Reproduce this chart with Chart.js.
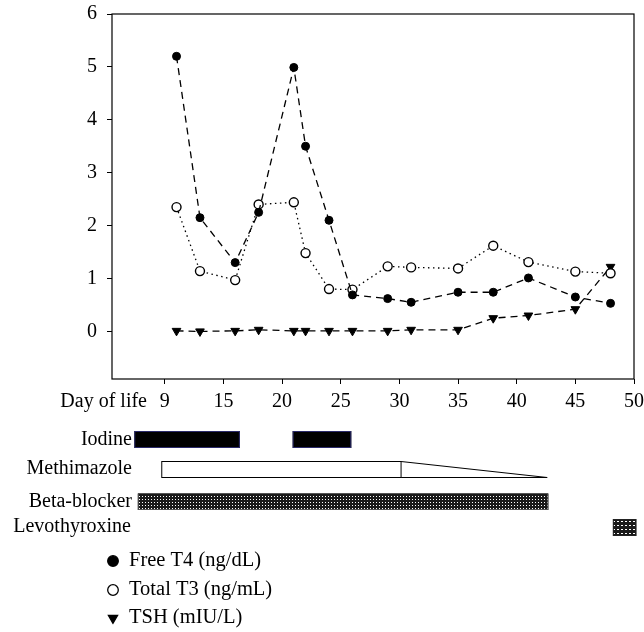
<!DOCTYPE html>
<html>
<head>
<meta charset="utf-8">
<script src="https://cdn.jsdelivr.net/npm/chart.js@4.4.0/dist/chart.umd.min.js"></script>
<style>
html, body { margin: 0; padding: 0; background: #fff; }
#wrap { width: 644px; height: 632px; }
</style>
</head>
<body>
<div id="wrap"><canvas id="chart"></canvas></div>
<script>
var days = [11, 13, 16, 18, 21, 22, 24, 26, 29, 31, 35, 38, 41, 45, 48];
var freeT4 = [5.2, 2.15, 1.3, 2.25, 4.99, 3.5, 2.1, 0.69, 0.62, 0.55, 0.74, 0.74, 1.01, 0.65, 0.53];
var totalT3 = [2.35, 1.14, 0.97, 2.4, 2.44, 1.48, 0.8, 0.79, 1.23, 1.21, 1.19, 1.62, 1.31, 1.13, 1.1];
var tsh = [0.01, 0.0, 0.01, 0.03, 0.01, 0.01, 0.01, 0.01, 0.01, 0.03, 0.03, 0.25, 0.3, 0.42, 1.22];

var xTickValues = [10, 15, 20, 25, 30, 35, 40, 45, 50];
var xTickLabels = ['9', '15', '20', '25', '30', '35', '40', '45', '50'];
var yTickValues = [0, 1, 2, 3, 4, 5, 6];

// treatment periods (day-of-life scale)
var iodine = [[7.4, 16.4], [20.9, 25.9]];
var methimazole = [9.7, 30.1, 42.6]; // start, taper start, end
var betaBlocker = [7.7, 42.7];
var levothyroxine = [48.2, 50.2];

var FONT = '"Liberation Serif", "DejaVu Serif", serif';

function toPoints(ys) {
    return days.map(function(d, i){ return {x: d, y: ys[i]}; });
}

function makePattern(ctx, cell) {
    var c = document.createElement('canvas');
    c.width = cell; c.height = cell;
    var p = c.getContext('2d');
    p.fillStyle = '#1a1a1a';
    p.fillRect(0, 0, cell, cell);
    p.fillStyle = '#fff';
    p.fillRect(1, 1, cell - 2 > 0 ? cell - 2 : 1, 1);
    return ctx.createPattern(c, 'repeat');
}

var extras = {
    id: 'extras',
    afterDraw: function(chart) {
        var ctx = chart.ctx, a = chart.chartArea, xs = chart.scales.x;
        var px = function(v){ return xs.getPixelForValue(v); };
        ctx.save();
        // frame
        ctx.strokeStyle = '#000';
        ctx.lineWidth = 1.2;
        ctx.strokeRect(a.left, a.top, a.right - a.left, a.bottom - a.top);

        ctx.fillStyle = '#000';
        ctx.font = '20px ' + FONT;
        ctx.textAlign = 'right';
        ctx.textBaseline = 'middle';
        ctx.fillText('Day of life', 147, 402);
        ctx.fillText('Iodine', 132, 440);
        ctx.fillText('Methimazole', 132, 469);
        ctx.fillText('Beta-blocker', 132, 502);
        ctx.fillText('Levothyroxine', 131, 527);

        // iodine bars
        ctx.lineWidth = 1;
        ctx.strokeStyle = '#2a2a6a';
        iodine.forEach(function(r){
            ctx.fillStyle = '#000';
            ctx.fillRect(px(r[0]), 431, px(r[1]) - px(r[0]), 17);
            ctx.strokeRect(px(r[0]) + 0.5, 431.5, px(r[1]) - px(r[0]) - 1, 16);
        });

        // methimazole box + taper
        ctx.strokeStyle = '#000';
        ctx.fillStyle = '#fff';
        var m0 = px(methimazole[0]), m1 = px(methimazole[1]), m2 = px(methimazole[2]);
        ctx.fillRect(m0, 461, m1 - m0, 16);
        ctx.strokeRect(m0 + 0.5, 461.5, m1 - m0, 16);
        ctx.beginPath();
        ctx.moveTo(m1 + 0.5, 461.5);
        ctx.lineTo(m2, 477.5);
        ctx.lineTo(m1 + 0.5, 477.5);
        ctx.stroke();

        // beta-blocker
        var b0 = px(betaBlocker[0]), b1 = px(betaBlocker[1]);
        ctx.fillStyle = makePattern(ctx, 3);
        ctx.fillRect(b0, 494, b1 - b0, 16);
        ctx.strokeStyle = '#555';
        ctx.strokeRect(b0 + 0.5, 493.5, b1 - b0 - 1, 16);

        // levothyroxine
        var l0 = px(levothyroxine[0]), l1 = px(levothyroxine[1]);
        ctx.fillStyle = makePattern(ctx, 4);
        ctx.fillRect(l0, 519, l1 - l0, 17);
        ctx.strokeStyle = '#222';
        ctx.strokeRect(l0 + 0.5, 519.5, l1 - l0 - 1, 16);

        // legend
        ctx.textAlign = 'left';
        ctx.font = '20.5px ' + FONT;
        var ly = [561, 590, 618];
        chart.data.datasets.forEach(function(ds, i){
            ctx.fillStyle = ds.pointBackgroundColor;
            ctx.strokeStyle = '#000';
            ctx.lineWidth = 1.3;
            Chart.helpers.drawPoint(ctx, {
                pointStyle: ds.pointStyle,
                radius: 5.3,
                rotation: ds.pointRotation || 0,
                borderWidth: 1.3
            }, 113, ly[i]);
            ctx.fillStyle = '#000';
            ctx.fillText(ds.label, 129, ly[i]);
        });
        ctx.restore();
    }
};

new Chart(document.getElementById('chart'), {
    type: 'scatter',
    data: {
        datasets: [
            {
                label: 'Free T4 (ng/dL)',
                data: toPoints(freeT4),
                showLine: true,
                borderColor: '#000',
                borderWidth: 1.3,
                borderDash: [7, 5],
                pointStyle: 'circle',
                pointRadius: 4,
                pointBackgroundColor: '#000',
                pointBorderColor: '#000',
                pointBorderWidth: 1
            },
            {
                label: 'Total T3 (ng/mL)',
                data: toPoints(totalT3),
                showLine: true,
                borderColor: '#000',
                borderWidth: 1.3,
                borderDash: [1.5, 3.5],
                pointStyle: 'circle',
                pointRadius: 4.5,
                pointBackgroundColor: '#fff',
                pointBorderColor: '#000',
                pointBorderWidth: 1.4
            },
            {
                label: 'TSH (mIU/L)',
                data: toPoints(tsh),
                showLine: true,
                borderColor: '#000',
                borderWidth: 1.3,
                borderDash: [7, 5],
                pointStyle: 'triangle',
                pointRotation: 180,
                pointRadius: 5,
                pointBackgroundColor: '#000',
                pointBorderColor: '#000',
                pointBorderWidth: 1
            }
        ]
    },
    options: {
        responsive: true,
        maintainAspectRatio: false,
        animation: false,
        layout: { autoPadding: false, padding: { top: 14, right: 10, left: 0, bottom: 218 } },
        plugins: { legend: { display: false }, tooltip: { enabled: false } },
        scales: {
            x: {
                type: 'linear',
                min: 5.5,
                max: 50,
                border: { display: false },
                grid: { drawOnChartArea: false, drawTicks: true, tickLength: 5, color: '#000' },
                afterBuildTicks: function(scale){
                    scale.ticks = xTickValues.map(function(v){ return {value: v}; });
                },
                afterFit: function(scale){
                    scale.height = 35;
                    scale.paddingLeft = 0;
                    scale.paddingRight = 0;
                },
                ticks: {
                    color: '#000',
                    padding: 6,
                    maxRotation: 0,
                    font: { family: FONT, size: 20 },
                    callback: function(v){
                        var i = xTickValues.indexOf(v);
                        return i >= 0 ? xTickLabels[i] : '';
                    }
                }
            },
            y: {
                min: -0.9,
                max: 6,
                border: { display: false },
                grid: { drawOnChartArea: false, drawTicks: true, tickLength: 5, color: '#000' },
                afterBuildTicks: function(scale){
                    scale.ticks = yTickValues.map(function(v){ return {value: v}; });
                },
                afterFit: function(scale){
                    scale.width = 112;
                    scale.paddingTop = 0;
                    scale.paddingBottom = 0;
                },
                ticks: {
                    color: '#000',
                    padding: 10,
                    font: { family: FONT, size: 20 }
                }
            }
        }
    },
    plugins: [extras]
});
</script>
</body>
</html>
